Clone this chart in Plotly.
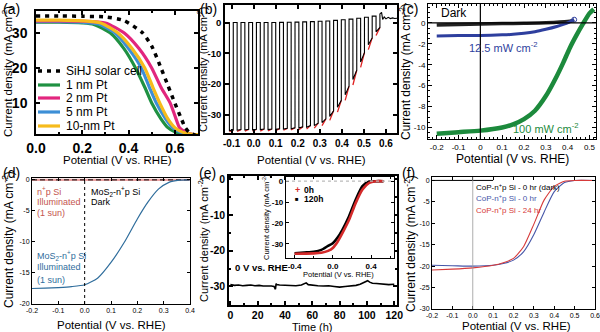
import plotly.graph_objects as go

W, H = 600, 332
SANS = "Liberation Sans"

# ---------------- (a) J-V: SiHJ cell and Pt-coated photocathodes ----------------
a_cell_v = [0.0, 0.1, 0.2, 0.3, 0.38, 0.46, 0.50, 0.54, 0.57, 0.60, 0.625, 0.645, 0.66, 0.675, 0.69]
a_cell_j = [34.8, 34.8, 34.7, 34.5, 33.5, 30.0, 26.2, 20.0, 15.0, 10.0, 6.0, 3.0, 1.8, 1.2, 0.8]
a_pt1_v = [0.0, 0.1, 0.2, 0.25, 0.32, 0.38, 0.43, 0.47, 0.50, 0.54, 0.57, 0.60, 0.64, 0.68]
a_pt1_j = [33.0, 33.0, 32.8, 32.4, 30.0, 25.5, 20.0, 14.5, 10.0, 5.5, 3.0, 1.8, 1.2, 1.0]
a_pt2_v = [0.0, 0.1, 0.2, 0.3, 0.38, 0.445, 0.50, 0.54, 0.58, 0.605, 0.62, 0.645, 0.67, 0.70]
a_pt2_j = [33.4, 33.4, 33.3, 32.8, 30.0, 25.5, 20.0, 14.5, 10.0, 5.5, 3.0, 1.8, 1.2, 1.0]
a_pt5_v = [0.0, 0.1, 0.2, 0.27, 0.34, 0.40, 0.455, 0.49, 0.52, 0.56, 0.59, 0.62, 0.66, 0.69]
a_pt5_j = [33.2, 33.2, 33.0, 32.5, 30.0, 25.5, 20.0, 14.5, 10.0, 5.5, 3.0, 1.8, 1.2, 1.0]
a_pt10_v = [0.0, 0.1, 0.2, 0.28, 0.353, 0.415, 0.47, 0.505, 0.535, 0.57, 0.60, 0.63, 0.67, 0.70]
a_pt10_j = [33.6, 33.6, 33.4, 32.8, 30.0, 25.5, 20.0, 14.5, 10.0, 5.5, 3.0, 1.8, 1.2, 1.0]
a_labels = ["SiHJ solar cell", "1 nm Pt", "2 nm Pt", "5 nm Pt", "10-nm Pt"]

# ---------------- (b) chopped-light LSV ----------------
b_on_v = [-0.11, -0.075, -0.04, -0.005, 0.03, 0.065, 0.10, 0.135, 0.17, 0.205, 0.24, 0.275,
          0.31, 0.345, 0.38, 0.415, 0.45, 0.485, 0.52, 0.555]
b_off_v = [-0.0925, -0.0575, -0.0225, 0.0125, 0.0475, 0.0825, 0.1175, 0.1525, 0.1875, 0.2225,
           0.2575, 0.2925, 0.3275, 0.3625, 0.3975, 0.4325, 0.4675, 0.5025, 0.5375, 0.5725]
b_j_on = [-35.1, -35.0, -34.9, -34.9, -34.8, -34.8, -34.7, -34.6, -34.5, -34.3, -34.0, -33.5,
          -32.5, -30.5, -27.5, -23.5, -18.5, -12.8, -7.2, -3.0]
b_j_off = [-34.9, -34.8, -34.7, -34.7, -34.6, -34.6, -34.5, -34.4, -34.2, -33.9, -33.5, -32.7,
           -31.3, -28.7, -25.3, -20.7, -15.5, -9.8, -5.0, -1.6]
b_j_red = [-35.5, -35.4, -35.3, -35.3, -35.3, -35.2, -35.1, -35.0, -34.9, -34.8, -34.6, -34.3,
           -33.5, -31.8, -29.1, -25.3, -20.3, -14.6, -8.8, -4.2]
b_dark = [0.0, 0.0, 0.0, 0.0, 0.0, 0.0, 0.05, 0.1, 0.15, 0.2, 0.3, 0.4, 0.5, 0.7, 0.9, 1.1,
          1.4, 1.7, 2.1, 2.8]
b_tail_v = [0.58, 0.585, 0.592, 0.60, 0.61, 0.62, 0.63, 0.64, 0.65]
b_tail_j = [3.3, 1.0, 1.8, 1.2, 1.7, 1.3, 1.5, 1.3, 1.4]

# ---------------- (c) dark / 12.5 / 100 mW cm-2 ----------------
c_dark_v = [-0.2, -0.1, 0.0, 0.1, 0.2, 0.3, 0.4, 0.43]
c_dark_j = [-0.2, -0.15, -0.1, -0.07, -0.04, 0.0, 0.12, 0.25]
c_low_v = [-0.2, -0.1, 0.0, 0.1, 0.15, 0.2, 0.25, 0.3, 0.35, 0.38, 0.41, 0.43]
c_low_j = [-1.25, -1.22, -1.2, -1.15, -1.1, -1.0, -0.85, -0.62, -0.35, -0.15, 0.1, 0.3]
c_sun_v = [-0.2, -0.1, 0.0, 0.1, 0.15, 0.2, 0.25, 0.3, 0.35, 0.38, 0.41, 0.44, 0.47, 0.5, 0.52]
c_sun_j = [-10.6, -10.45, -10.3, -10.0, -9.7, -9.2, -8.4, -7.0, -5.1, -3.8, -2.4, -1.2, -0.1, 0.9, 1.3]

# ---------------- (d) MoS2-n+p Si ----------------
d_v = [-0.2, -0.15, -0.1, -0.05, 0.0, 0.05, 0.1, 0.15, 0.2, 0.24, 0.28, 0.32, 0.36, 0.4]
d_j = [-17.5, -17.45, -17.35, -17.2, -16.9, -15.8, -13.3, -10.1, -6.3, -3.6, -1.5, -0.4, -0.05, 0.0]
d_flat_v = [-0.2, 0.4]
d_flat_j = [0.0, 0.0]

# ---------------- (e) stability at 0 V vs. RHE ----------------
e_t = [0, 3, 6, 9, 12, 15, 18, 21, 24, 27, 30, 32, 33, 33.5, 34, 36, 40, 44, 48, 52, 54, 55.5,
       57, 60, 64, 68, 72, 76, 80, 84, 88, 92, 95, 97, 99, 100.5, 102, 104, 107, 110, 113, 116, 120]
e_j = [-29.5, -29.7, -29.6, -29.8, -29.7, -29.6, -29.8, -29.7, -29.9, -29.8, -29.9, -30.0, -30.8,
       -29.2, -29.5, -29.6, -29.7, -29.7, -29.8, -29.6, -29.2, -29.0, -29.5, -29.7, -29.8, -29.9,
       -29.8, -30.0, -30.2, -30.0, -29.9, -29.7, -29.4, -29.0, -28.6, -28.4, -28.8, -29.1, -29.2,
       -29.3, -29.4, -29.5, -29.4]
e_in_v = [-0.4, -0.3, -0.2, -0.12, -0.05, 0.0, 0.05, 0.1, 0.17, 0.24, 0.31, 0.38, 0.45, 0.53]
e_in_0h = [-34.8, -34.7, -34.6, -34.3, -33.4, -32.0, -29.0, -24.9, -18.5, -10.4, -4.0, -0.8, -0.05, 0.0]
e_in_120h = [-34.6, -34.2, -33.8, -32.9, -31.0, -29.7, -27.0, -23.3, -16.8, -8.8, -2.4, -0.2, 0.0, 0.0]

# ---------------- (f) CoP-n+p Si ----------------
f_v = [-0.2, -0.1, 0.0, 0.1, 0.15, 0.2, 0.25, 0.3, 0.35, 0.4, 0.45, 0.5, 0.6]
f_0h = [-19.8, -19.9, -20.0, -19.8, -19.4, -18.6, -16.6, -12.6, -7.4, -2.6, -0.5, 0.0, 0.0]
f_24h = [-20.9, -20.7, -20.4, -19.8, -19.2, -18.2, -15.4, -10.2, -4.6, -1.4, -0.2, 0.0, 0.0]
f_dark_v = [-0.2, 0.1]
f_dark_j = [0.0, 0.0]


def px(x, y):
    return x / W, 1 - y / H


def dom(x0, x1, y0, y1):
    return [x0 / W, x1 / W], [1 - y1 / H, 1 - y0 / H]


fig = go.Figure()


def line(x, y, ax, color, width, dash=None, shape="spline"):
    fig.add_trace(go.Scatter(x=x, y=y, mode="lines", xaxis="x" + ax, yaxis="y" + ax,
                             line=dict(color=color, width=width, dash=dash, shape=shape,
                                       smoothing=0.6), showlegend=False, hoverinfo="skip"))


# (a)
GREEN, PINK, BLUE, YELLOW = "#1f9142", "#e2267e", "#3d8fd6", "#f6bb1c"
line(a_pt1_v, a_pt1_j, "", GREEN, 3.2)
line(a_pt5_v, a_pt5_j, "", BLUE, 3.2)
line(a_pt2_v, a_pt2_j, "", PINK, 3.2)
line(a_pt10_v, a_pt10_j, "", YELLOW, 3.2)
line(a_cell_v, a_cell_j, "", "black", 3.5, dash="4px,5px")

# (b): square-wave current built from the light-on / light-off edges
bx, by = [-0.13], [0.0]
prev = 0.0
for v1, v2, j1, j2, jd in zip(b_on_v, b_off_v, b_j_on, b_j_off, b_dark):
    bx += [v1, v1, v2, v2]
    by += [prev, j1, j2, jd]
    prev = jd
bx += b_tail_v
by += b_tail_j
rx, ry = [], []
for v1, v2, jr, j2 in zip(b_on_v, b_off_v, b_j_red, b_j_off):
    rx += [v1, v2, None]
    ry += [jr, j2, None]
line(rx, ry, "2", "#e02020", 1.3, shape="linear")
line(bx, by, "2", "black", 1.1, shape="linear")

# (c)
line(c_dark_v, c_dark_j, "3", "#222222", 3.5)
line(c_low_v, c_low_j, "3", "#2e3f9e", 3.0)
fig.add_trace(go.Scatter(x=[c_low_v[-1]], y=[c_low_j[-1]], mode="markers", xaxis="x3", yaxis="y3",
                         marker=dict(symbol="circle-open", size=5, color="#2e3f9e", line=dict(width=1)),
                         showlegend=False, hoverinfo="skip"))
line(c_sun_v, c_sun_j, "3", "#1c8a3c", 4.5)

# (d)
line(d_flat_v, d_flat_j, "4", "#eba3a3", 2.4, shape="linear")
line(d_flat_v, d_flat_j, "4", "black", 1.0, dash="5px,3px", shape="linear")
line(d_v, d_j, "4", "#2f6d9c", 1.2)

# (e)
line(e_t, e_j, "5", "black", 1.6, shape="linear")
line(e_in_v, e_in_120h, "6", "black", 2.6)
line(e_in_v, e_in_0h, "6", "#d42a2a", 2.6)

# (f)
line(f_dark_v, f_dark_j, "7", "black", 1.0, shape="linear")
line(f_v, f_0h, "7", "#4656a8", 1.1)
line(f_v, f_24h, "7", "#d63a3a", 1.1)


def axis(domain, rng, tickfont, tickvals, ticktext=None, lw=1.0, ticklen=4, minor=None,
         anchor=None, standoff=None, side=None):
    d = dict(domain=domain, range=rng, showgrid=False, zeroline=False, showline=True,
             linecolor="black", linewidth=lw, mirror="ticks", ticks="inside",
             ticklen=ticklen, tickwidth=lw, tickcolor="black", tickfont=tickfont,
             anchor=anchor, showticklabels=True, ticklabeloverflow="allow",
             automargin=False, tickmode="array", tickvals=tickvals,
             ticktext=ticktext if ticktext is not None else [str(v) for v in tickvals])
    if side:
        d["side"] = side
    if minor:
        d["minor"] = dict(ticks="inside", ticklen=max(2, ticklen // 2), tickwidth=lw,
                          tickcolor="black", dtick=minor, tick0=0)
    if standoff is not None:
        d["ticklabelstandoff"] = standoff
    return d


def bold(size):
    return dict(family=SANS, size=size, color="black", weight="bold")


def reg(size):
    return dict(family=SANS, size=size, color="black")


V_TXT = ["-0.2", "-0.1", "0.0", "0.1", "0.2", "0.3", "0.4", "0.5", "0.6"]
V_VAL = [-0.2, -0.1, 0, 0.1, 0.2, 0.3, 0.4, 0.5, 0.6]

layout = {}
xa, ya = dom(36, 198, 11, 134)
layout["xaxis"] = axis(xa, [0, 0.70], bold(14), [0, 0.2, 0.4, 0.6], ["0.0", "0.2", "0.4", "0.6"],
                       lw=1.5, anchor="y", minor=0.1)
layout["yaxis"] = axis(ya, [1.2, 36.2], bold(14), [10, 20, 30], lw=1.5, anchor="x",
                       standoff=4, side="left")
xb, yb = dom(225, 397, 5, 133)
layout["xaxis2"] = axis(xb, [-0.13, 0.65], bold(10), V_VAL[1:], V_TXT[1:], lw=1.5, anchor="y2")
layout["yaxis2"] = axis(yb, [-35.9, 5.7], bold(9.5), [-30, -20, -10, 0], lw=1.5, anchor="x2",
                        side="left")
xc, yc = dom(428, 596, 4, 139)
layout["xaxis3"] = axis(xc, [-0.24, 0.53], reg(8), V_VAL[:8],
                        ["-0.2", "-0.1", "0", "0.1", "0.2", "0.3", "0.4", "0.5"],
                        anchor="y3", minor=0.02)
layout["yaxis3"] = axis(yc, [-11.1, 1.8], reg(8), [-10, -8, -6, -4, -2, 0], anchor="x3",
                        minor=0.5, side="left")
xd, yd = dom(32, 190, 178, 304)
layout["xaxis4"] = axis(xd, [-0.2, 0.4], reg(7), V_VAL[:7], V_TXT[:7], ticklen=3, anchor="y4")
layout["yaxis4"] = axis(yd, [-20, 0.3], reg(7), [-20, -15, -10, -5, 0], ticklen=3, anchor="x4",
                        side="left")
xe, ye = dom(229, 397, 176, 305)
layout["xaxis5"] = axis(xe, [-1, 122], bold(10.5), [0, 20, 40, 60, 80, 100, 120], lw=1.5,
                        anchor="y5", minor=10)
layout["yaxis5"] = axis(ye, [-35.2, 0.9], bold(10.5), [-30, -20, -10, 0], lw=1.5, anchor="x5",
                        minor=5, side="left")
xi, yi = dom(286, 394, 177, 258)
layout["xaxis6"] = axis(xi, [-0.49, 0.64], bold(8), [-0.4, 0, 0.4], ["-0.4", "0.0", "0.4"],
                        lw=1.2, ticklen=3, anchor="y6", minor=0.2)
layout["yaxis6"] = axis(yi, [-36.8, 2], bold(8), [-30, -20, -10, 0], lw=1.2, ticklen=3,
                        anchor="x6", side="left")
xf, yf = dom(432, 595, 177, 309)
layout["xaxis7"] = axis(xf, [-0.2, 0.6], reg(7), V_VAL, V_TXT, ticklen=3, anchor="y7")
layout["yaxis7"] = axis(yf, [-30, 0.8], reg(7), [-30, -25, -20, -15, -10, -5, 0], ticklen=3,
                        anchor="x7", side="left")

annotations = []


def note(text, x, y, size, color="black", angle=0, weight="normal", xanchor="center",
         yanchor="middle", xref="paper", yref="paper"):
    if xref == "paper":
        x, y = px(x, y)
    annotations.append(dict(text=text, x=x, y=y, xref=xref, yref=yref, showarrow=False,
                            textangle=angle, xanchor=xanchor, yanchor=yanchor,
                            font=dict(family=SANS, size=size, color=color, weight=weight)))


JT = "Current density (mA cm<sup>-2</sup>)"
PT = "Potential (V vs. RHE)"

# panel letters
for lab, x, y in [("(a)", 1, 9), ("(b)", 198, 9), ("(c)", 400, 9),
                  ("(d)", 1, 173), ("(e)", 197, 173), ("(f)", 400, 173)]:
    note(lab, x, y, 14, xanchor="left")

# axis titles
note(PT, 117, 160, 11.5)
note(JT, 7, 72, 11.5, angle=-90)
note(PT, 311, 160, 11.5)
note(JT, 202, 70, 11, angle=-90)
note(PT, 512, 159, 12)
note(JT, 405, 72, 12, angle=-90)
note(PT, 111, 325, 11.5)
note(JT, 8, 240, 12, angle=-90)
note("Time (h)", 313, 326.5, 11)
note(JT, 203, 240, 11, angle=-90)
note(PT, 516, 326, 11.5)
note(JT, 410, 244, 12, angle=-90)

# (a) legend
a_colors = ["black", GREEN, PINK, BLUE, YELLOW]
a_rows = [71, 85, 98, 112, 126]
shapes = []
for lab, col, yy in zip(a_labels, a_colors, a_rows):
    x0, y0 = px(38, yy)
    x1, _ = px(60, yy)
    shapes.append(dict(type="line", xref="paper", yref="paper", x0=x0, x1=x1, y0=y0, y1=y0,
                       line=dict(color=col, width=3.5 if col == "black" else 3.2,
                                 dash="4px,5px" if col == "black" else "solid")))
    note(lab, 64, yy, 12, xanchor="left")

# (c) crosshair and labels
shapes.append(dict(type="line", xref="x3", yref="y3", x0=0, x1=0, y0=-11.1, y1=1.8,
                   line=dict(color="black", width=1.2)))
shapes.append(dict(type="line", xref="x3", yref="y3", x0=-0.24, x1=0.53, y0=0, y1=0,
                   line=dict(color="black", width=1.2)))
note("Dark", -0.12, 0.95, 12, xref="x3", yref="y3")
note("12.5 mW cm<sup>-2</sup>", 0.105, -2.3, 11, color="#2e3f9e", xref="x3", yref="y3")
note("100 mW cm<sup>-2</sup>", 0.3, -10.05, 11, color="#1c8a3c", xref="x3", yref="y3")

# (d) zero-potential marker and labels
shapes.append(dict(type="line", xref="x4", yref="y4", x0=0, x1=0, y0=-20, y1=0.3,
                   line=dict(color="black", width=1.0, dash="dot")))
RED_T, BLUE_T = "#c4544e", "#2f6d9c"
for t, yv in [("n<sup>+</sup>p Si", -1.8), ("Illuminated", -3.5), ("(1 sun)", -5.4)]:
    note(t, -0.188, yv, 9, color=RED_T, xanchor="left", xref="x4", yref="y4")
for t, yv in [("MoS<sub>2</sub>-n<sup>+</sup>p Si", -1.8), ("Dark", -3.6)]:
    note(t, 0.015, yv, 9, xanchor="left", xref="x4", yref="y4")
for t, yv in [("MoS<sub>2</sub>-n<sup>+</sup>p Si", -12.2), ("Illuminated", -14.1), ("(1 sun)", -16.1)]:
    note(t, -0.188, yv, 9, color=BLUE_T, xanchor="left", xref="x4", yref="y4")

# (e) labels and inset
note("0 V vs. RHE", 233, 267, 9.5, weight="bold", xanchor="left")
shapes.append(dict(type="line", xref="x6", yref="y6", x0=-0.49, x1=0.64, y0=0, y1=0,
                   line=dict(color="#bbbbbb", width=1.2, dash="dot")))
note("+", 297, 190, 9, color="#d42a2a", weight="bold")
note("0h", 302, 190, 8.5, weight="bold", xanchor="left")
note("■", 297, 199, 6)
note("120h", 302, 199, 8.5, weight="bold", xanchor="left")
note(PT, 338, 274, 7.5)
note(JT, 266, 217, 7.5, angle=-90)

# (f) zero-potential marker and legend text
shapes.append(dict(type="line", xref="x7", yref="y7", x0=0, x1=0, y0=-30, y1=0.8,
                   line=dict(color="#999999", width=0.8)))
for t, col, yv in [("CoP-n<sup>+</sup>p Si - 0 hr (dark)", "black", -1.6),
                   ("CoP-n<sup>+</sup>p Si - 0 hr", "#4656a8", -4.2),
                   ("CoP-n<sup>+</sup>p Si - 24 hr", "#d63a3a", -6.8)]:
    note(t, 0.004, yv, 8, color=col, xanchor="left", xref="x7", yref="y7")

layout.update(width=W, height=H, margin=dict(l=0, r=0, t=0, b=0), plot_bgcolor="white",
              paper_bgcolor="white", showlegend=False, annotations=annotations, shapes=shapes,
              font=dict(family=SANS, color="black"))
fig.update_layout(**layout)
fig.write_html("out.html")
